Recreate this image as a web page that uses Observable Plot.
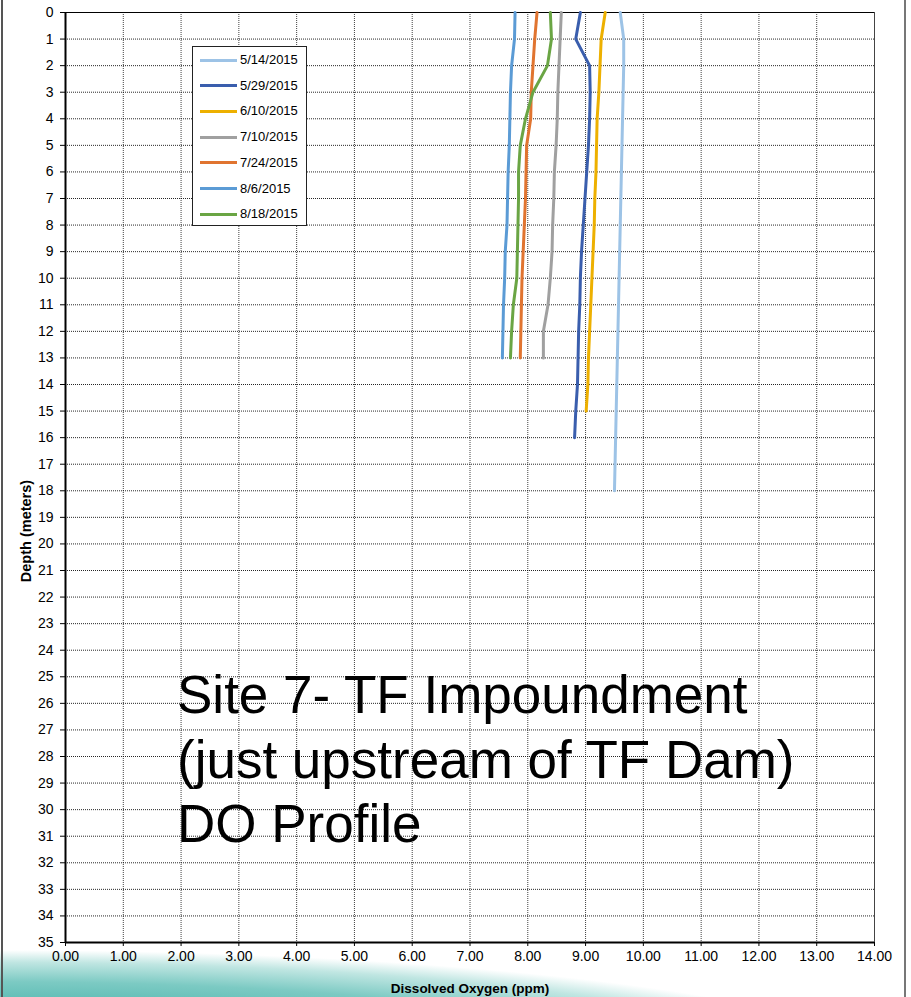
<!DOCTYPE html>
<html>
<head>
<meta charset="utf-8">
<script src="https://cdn.jsdelivr.net/npm/d3@7"></script>
<script src="https://cdn.jsdelivr.net/npm/@observablehq/plot@0.6"></script>
<style>
  html, body { margin: 0; padding: 0; background: #fff; }
  #wrap { position: relative; width: 911px; height: 997px; overflow: hidden; font-family: "Liberation Sans", Arial, sans-serif; }
  #swoosh { position: absolute; left: 0; top: 900px; width: 911px; height: 97px;
    background: radial-gradient(ellipse 900px 122px at 0px 172px, #3aa9a1 0%, #4fb6ae 50%, #7ccac3 74%, #c0e6e2 90%, rgba(255,255,255,0) 100%); }
  #edgeL { position: absolute; left: 1px; top: 0; width: 2px; height: 997px; background: #555; }
  #edgeR { position: absolute; left: 904px; top: 0; width: 2px; height: 997px; background: #777; }
  #chart { position: absolute; left: 0; top: 0; }
  #chart g[aria-label$="tick label"] text { font-size: 14px; }
  #chart g[aria-label="x-axis label"] text { font-size: 13.5px; font-weight: bold; }
  #legend { position: absolute; left: 192px; top: 46px; width: 115px; height: 180px; border: 1px solid #222; background: #fff; box-sizing: border-box; }
  .li { position: absolute; left: 7px; font-size: 13px; color: #000; display: flex; align-items: center; white-space: nowrap; line-height: 14px; }
  .sw { width: 37px; height: 3px; margin-right: 3px; }
  #title { position: absolute; left: 177px; top: 663px; font-size: 53px; line-height: 64.5px; color: #000; white-space: nowrap; }
  #ylabel { position: absolute; left: 26px; top: 531px; transform: translate(-50%, -50%) rotate(-90deg); font-size: 14.5px; font-weight: bold; white-space: nowrap; color: #000; }
</style>
</head>
<body>
<div id="wrap">
  <div id="swoosh"></div>
  <div id="edgeL"></div>
  <div id="edgeR"></div>
  <div id="chart"></div>
  <div id="legend"></div>
  <div id="ylabel">Depth (meters)</div>
  <div id="title">Site 7- TF Impoundment<br>(just upstream of TF Dam)<br>DO Profile</div>
</div>
<script>
// ---- data ----
const dates = ["5/14/2015", "5/29/2015", "6/10/2015", "7/10/2015", "7/24/2015", "8/6/2015", "8/18/2015"];
const colors = ["#9DC3E6", "#3A5EAD", "#EDB000", "#A0A0A0", "#E07430", "#5B9BD5", "#6AA544"];

const do0514 = [9.60, 9.66, 9.66, 9.65, 9.64, 9.63, 9.62, 9.61, 9.60, 9.59, 9.58, 9.57, 9.56, 9.55, 9.54, 9.53, 9.52, 9.51, 9.50];
const do0529 = [8.91, 8.83, 9.07, 9.08, 9.07, 9.05, 9.02, 8.99, 8.96, 8.93, 8.91, 8.90, 8.88, 8.87, 8.86, 8.83, 8.81];
const do0610 = [9.34, 9.27, 9.25, 9.23, 9.20, 9.19, 9.18, 9.16, 9.15, 9.13, 9.11, 9.09, 9.07, 9.05, 9.04, 9.01];
const do0710 = [8.58, 8.56, 8.54, 8.52, 8.51, 8.49, 8.46, 8.45, 8.43, 8.42, 8.39, 8.35, 8.27, 8.27];
const do0724 = [8.16, 8.12, 8.09, 8.06, 8.05, 7.98, 7.97, 7.96, 7.94, 7.92, 7.90, 7.89, 7.88, 7.87];
const do0806 = [7.78, 7.77, 7.72, 7.70, 7.69, 7.68, 7.66, 7.65, 7.64, 7.61, 7.60, 7.58, 7.57, 7.56];
const do0818 = [8.39, 8.41, 8.34, 8.09, 7.96, 7.87, 7.84, 7.84, 7.83, 7.82, 7.81, 7.75, 7.72, 7.70];

const xTicks = [0, 1, 2, 3, 4, 5, 6, 7, 8, 9, 10, 11, 12, 13, 14];
const yTicks = d3.range(0, 36);

// ---- build table ----
const seriesValues = [do0514, do0529, do0610, do0710, do0724, do0806, do0818];
const rows = [];
seriesValues.forEach((vals, i) => {
  vals.forEach((v, depth) => rows.push({date: dates[i], depth, value: v}));
});

const chart = Plot.plot({
  width: 911,
  height: 997,
  marginLeft: 65,
  marginRight: 37,
  marginTop: 12,
  marginBottom: 55,
  style: {fontFamily: "Liberation Sans, Arial, sans-serif", fontSize: "14px", background: "transparent", color: "#000"},
  x: {domain: [0, 14]},
  y: {domain: [0, 35], reverse: true},
  color: {domain: dates, range: colors},
  marks: [
    Plot.gridX(xTicks, {stroke: "#000", strokeOpacity: 0.75, strokeDasharray: "1,1"}),
    Plot.gridY(yTicks, {stroke: "#000", strokeOpacity: 0.85, strokeDasharray: "1,1"}),
    Plot.ruleY([0], {stroke: "#000", strokeWidth: 1.2}),
    Plot.ruleX([14], {stroke: "#444", strokeWidth: 1}),
    Plot.line(rows, {x: "value", y: "depth", z: "date", stroke: "date", strokeWidth: 3}),
    Plot.axisX(xTicks, {tickFormat: d3.format(".2f"), tickSize: 4, tickPadding: 5, fontSize: 14, label: "Dissolved Oxygen (ppm)", labelAnchor: "center", labelArrow: "none", labelOffset: 50}),
    Plot.axisY(yTicks, {tickFormat: d => d, tickSize: 5, tickPadding: 7, fontSize: 14, label: null}),
    Plot.ruleX([0], {stroke: "#000", strokeWidth: 2}),
    Plot.ruleY([35], {stroke: "#000", strokeWidth: 2})
  ]
});
document.getElementById("chart").appendChild(chart);

// ---- legend ----
const legend = document.getElementById("legend");
dates.forEach((d, i) => {
  const el = document.createElement("div");
  el.className = "li";
  el.style.top = (6 + i * 25.7) + "px";
  const sw = document.createElement("span");
  sw.className = "sw";
  sw.style.background = colors[i];
  const tx = document.createElement("span");
  tx.textContent = d;
  el.appendChild(sw);
  el.appendChild(tx);
  legend.appendChild(el);
});
</script>
</body>
</html>
